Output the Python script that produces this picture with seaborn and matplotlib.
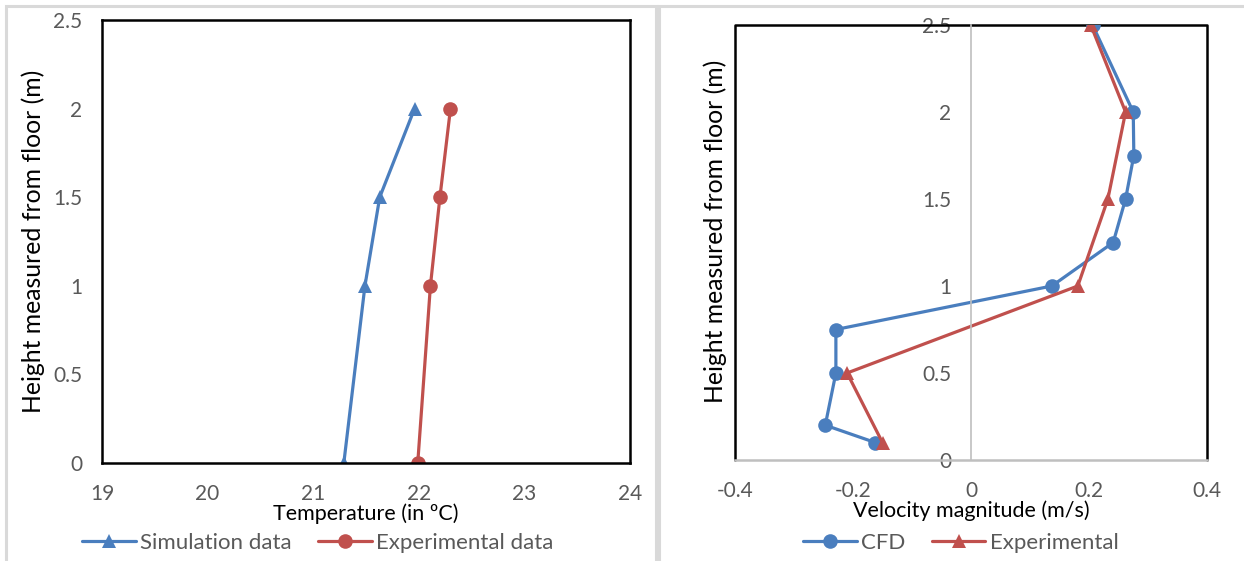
import matplotlib
matplotlib.use("Agg")
import matplotlib.pyplot as plt
import seaborn as sns
import pandas as pd
from matplotlib.patches import Rectangle

# Temperature profile
sim_temp = [21.29, 21.49, 21.63, 21.96]
sim_height = [0.0, 1.0, 1.5, 2.0]
exp_temp = [21.99, 22.11, 22.20, 22.30]
exp_height = [0.0, 1.0, 1.5, 2.0]

# Velocity profile
cfd_vel = [0.206, 0.275, 0.276, 0.262, 0.241, 0.137, -0.229, -0.229, -0.247, -0.162]
cfd_height = [2.5, 2.0, 1.75, 1.5, 1.25, 1.0, 0.75, 0.5, 0.2, 0.1]
expv_vel = [0.203, 0.262, 0.232, 0.181, -0.21, -0.15]
expv_height = [2.5, 2.0, 1.5, 1.0, 0.5, 0.1]

temp_ticks = [19, 20, 21, 22, 23, 24]
vel_ticks = [-0.4, -0.2, 0, 0.2, 0.4]
height_ticks = [0, 0.5, 1, 1.5, 2, 2.5]

BLUE = "#4A7EBE"
RED = "#C0504D"
TICK_GREY = "#595959"
TICK_FS = 15
LABEL_FS = 15.5
YLABEL_FS = 17.8
LEG_FS = 16

sns.set_theme(style="white")
plt.rcParams["font.family"] = ["Lato", "DejaVu Sans"]

fig = plt.figure(figsize=(12.44, 5.61), dpi=100)

# Chart-area borders
W, H = 1244, 561
for x0, x1 in [(6, 656), (659, 1250)]:
    fig.patches.append(Rectangle((x0 / W, -0.05), (x1 - x0) / W, (H - 6) / H + 0.05,
                                 transform=fig.transFigure, fill=False,
                                 edgecolor="#D9D9D9", linewidth=2.2))

ax1 = fig.add_axes([102 / W, 1 - 463 / H, 528 / W, 443 / H])
ax2 = fig.add_axes([735 / W, 1 - 460 / H, 472 / W, 435 / H])

line_kw = dict(sort=False, estimator=None, linewidth=2.3, markersize=10.5, markeredgewidth=0)
legend_kw = dict(loc="center", bbox_transform=fig.transFigure, ncol=2, frameon=False,
                 fontsize=LEG_FS, labelcolor=TICK_GREY, handlelength=2.4,
                 handletextpad=0.2, columnspacing=1.2)

def num_fmt(v):
    return f"{v:g}"

# Left: temperature
d_sim = pd.DataFrame({"t": sim_temp, "h": sim_height})
d_exp = pd.DataFrame({"t": exp_temp, "h": exp_height})
sns.lineplot(data=d_sim, x="t", y="h", marker="^", color=BLUE, ax=ax1,
             label="Simulation data", **line_kw)
sns.lineplot(data=d_exp, x="t", y="h", marker="o", color=RED, ax=ax1,
             label="Experimental data", **line_kw)
ax1.set_xlim(19, 24)
ax1.set_ylim(0, 2.5)
ax1.set_xticks(temp_ticks)
ax1.set_xticklabels([num_fmt(v) for v in temp_ticks])
ax1.set_yticks(height_ticks)
ax1.set_yticklabels([num_fmt(v) for v in height_ticks])
for s in ax1.spines.values():
    s.set_color("black")
    s.set_linewidth(1.8)
ax1.tick_params(axis="both", length=0, colors=TICK_GREY, labelsize=TICK_FS)
ax1.tick_params(axis="x", pad=15)
ax1.tick_params(axis="y", pad=14)
ax1.set_xlabel("Temperature (in ºC)", fontsize=LABEL_FS, color="black", labelpad=0)
ax1.set_ylabel("Height measured from floor (m)", fontsize=YLABEL_FS, color="black")
ax1.yaxis.set_label_coords(-0.108, 0.5)
ax1.legend(bbox_to_anchor=(318 / W, 1 - 543 / H), **legend_kw)

# Right: velocity
d_cfd = pd.DataFrame({"v": cfd_vel, "h": cfd_height})
d_expv = pd.DataFrame({"v": expv_vel, "h": expv_height})
sns.lineplot(data=d_cfd, x="v", y="h", marker="o", color=BLUE, ax=ax2,
             label="CFD", **line_kw)
sns.lineplot(data=d_expv, x="v", y="h", marker="^", color=RED, ax=ax2,
             label="Experimental", **line_kw)
ax2.set_xlim(-0.4, 0.4)
ax2.set_ylim(0, 2.5)
ax2.set_xticks(vel_ticks)
ax2.set_xticklabels([num_fmt(v) for v in vel_ticks])
ax2.set_yticks(height_ticks)
ax2.set_yticklabels([num_fmt(v) for v in height_ticks])
ax2.spines["left"].set_position(("data", 0))
ax2.spines["left"].set_color("#BFBFBF")
ax2.spines["left"].set_linewidth(1.2)
ax2.spines["bottom"].set_color("#BFBFBF")
ax2.spines["bottom"].set_linewidth(1.8)
ax2.spines["top"].set_visible(False)
ax2.spines["right"].set_visible(False)
ax2.plot([0, 0, 1, 1], [0, 1, 1, 0], transform=ax2.transAxes, color="black",
         linewidth=1.8, clip_on=False, zorder=1)
ax2.tick_params(axis="both", length=0, colors=TICK_GREY, labelsize=TICK_FS)
ax2.tick_params(axis="x", pad=15)
ax2.tick_params(axis="y", pad=14)
ax2.set_xlabel("Velocity magnitude (m/s)", fontsize=LABEL_FS, color="black", labelpad=0)
ax2.set_ylabel("Height measured from floor (m)", fontsize=YLABEL_FS, color="black")
ax2.yaxis.set_label_coords(-0.017, 0.525)
ax2.legend(bbox_to_anchor=(961 / W, 1 - 543 / H), **legend_kw)

fig.savefig("out.png", dpi=100)
